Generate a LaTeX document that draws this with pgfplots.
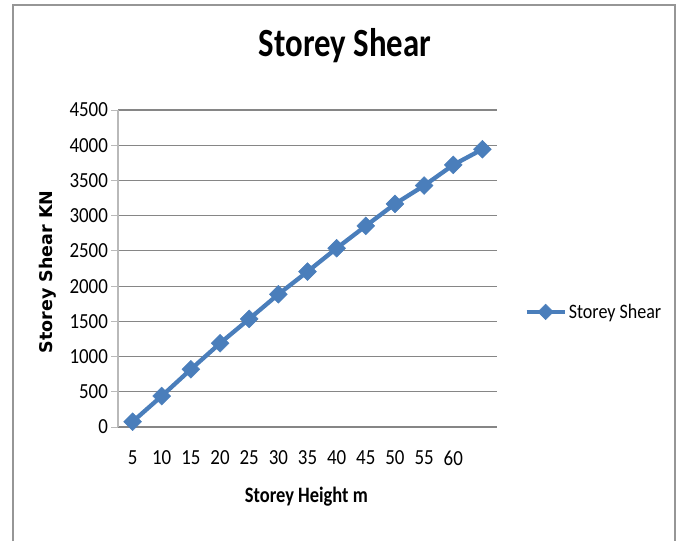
\documentclass[border=0pt]{standalone}
\usepackage{pgfplots}
\pgfplotsset{compat=1.18}
\usepackage{fontspec}
\setmainfont{Carlito}
\newfontfamily\dejavu{DejaVu Sans}
\definecolor{serblue}{RGB}{74,126,187}
\definecolor{gridgray}{RGB}{134,134,134}
\definecolor{axgray}{RGB}{185,185,185}
\definecolor{framegray}{RGB}{150,150,150}
\begin{document}
\begin{tikzpicture}
\path[use as bounding box] (0pt,0pt) rectangle (684pt,-541pt);
\draw[framegray, line width=1.6pt] (13pt,-541pt) -- (13pt,-5pt) -- (675pt,-5pt) -- (675pt,-541pt);
\begin{axis}[
  at={(118pt,-427pt)}, anchor=south west,
  scale only axis, width=379pt, height=317pt,
  xmin=-0.5, xmax=12.5, ymin=0, ymax=4500,
  xtick={0,1,2,3,4,5,6,7,8,9,10,11},
  xticklabels={5,10,15,20,25,30,35,40,45,50,55,60},
  ytick={0,500,1000,1500,2000,2500,3000,3500,4000,4500},
  scaled y ticks=false,
  axis x line*=bottom, axis y line*=left,
  x axis line style={draw=gridgray, line width=1.1pt, -},
  y axis line style={draw=axgray, line width=1.1pt, -},
  xtick align=inside, ytick align=outside,
  major tick length=7pt,
  xtick style={draw=none},
  ytick style={draw=axgray, line width=1pt},
  ymajorgrids, major grid style={draw=gridgray, line width=1.1pt},
  tick label style={font=\fontsize{21.5}{24}\selectfont, xscale=0.88, /pgf/number format/assume math mode=true, /pgf/number format/1000 sep={}},
  xticklabel style={yshift=-20pt},
  title={\scalebox{0.82}[1]{Storey Shear}},
  title style={font=\fontsize{40}{46}\selectfont\bfseries, at={(axis description cs:0.599,1.183)}, anchor=center},
  xlabel={\scalebox{0.84}[1]{Storey Height m}},
  xlabel style={font=\fontsize{22}{26}\selectfont\bfseries, at={(axis description cs:0.497,-0.221)}, anchor=center},
  ylabel={Storey Shear KN},
  ylabel style={font=\dejavu\bfseries\fontsize{17.5}{20}\selectfont, at={(axis description cs:-0.185,0.489)}, anchor=center, rotate=0},
  legend style={at={(axis description cs:1.072,0.363)}, anchor=west, draw=none, fill=none, font=\fontsize{20.5}{24}\selectfont, inner sep=0pt},
  legend image code/.code={\draw[#1, mark repeat=2, mark phase=2, mark size=5.5pt] plot coordinates {(0pt,0pt) (19pt,0pt) (38pt,0pt)};},
]
\addplot[serblue, line width=4.3pt, mark=square*, mark size=6.3pt, mark options={rotate=45, line width=0.5pt, fill=serblue, draw=serblue}]
coordinates {(0,75) (1,440) (2,819) (3,1189) (4,1534) (5,1884) (6,2206) (7,2538) (8,2855) (9,3167) (10,3427) (11,3721) (12,3943)};
\addlegendentry{\scalebox{0.88}[1]{Storey Shear}}
\end{axis}
\end{tikzpicture}
\end{document}
